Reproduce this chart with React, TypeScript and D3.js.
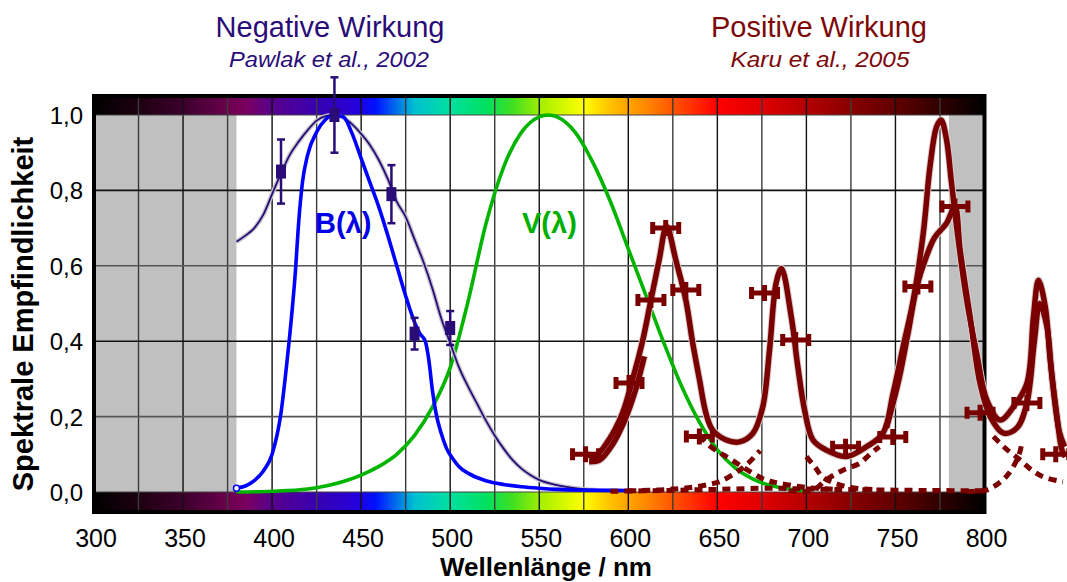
import React from 'react';
import * as d3 from 'd3';

const W = 1067;
const H = 582;

const xTickValues = [300, 350, 400, 450, 500, 550, 600, 650, 700, 750, 800];
const xGridValues = d3.range(325, 800, 25);
const yTickValues = [0, 0.2, 0.4, 0.6, 0.8, 1.0];
const yTickLabels = ['0,0', '0,2', '0,4', '0,6', '0,8', '1,0'];

// spectrum colour stops [nm, colour]
const spectrumStops: [number, string][] = [
  [300, '#000000'], [325, '#1e0010'], [350, '#3c002c'], [375, '#6a004c'], [385, '#7a005e'],
  [400, '#58008e'], [425, '#3800b0'], [448, '#2400dc'], [458, '#0010ff'], [468, '#0060f0'],
  [480, '#00c0d0'], [500, '#00e0a0'], [520, '#00e060'], [535, '#40e020'], [552, '#a8f000'],
  [575, '#ffff00'], [590, '#ffc000'], [610, '#ff8800'], [630, '#ff4400'], [650, '#ff0000'],
  [675, '#e00000'], [700, '#b40000'], [725, '#880000'], [750, '#600000'], [775, '#300000'],
  [800, '#000000'],
];

// B(lambda) blue light hazard curve
const blueB: [number, number][] = [
  [380, 0.01], [385, 0.016], [390, 0.03], [395, 0.055], [400, 0.1], [405, 0.21], [408, 0.33],
  [410, 0.42], [413, 0.58], [415, 0.72], [417, 0.82], [420, 0.895], [425, 0.955], [430, 0.988],
  [435, 1.0], [440, 0.995], [445, 0.95], [450, 0.885], [455, 0.82], [460, 0.755], [465, 0.68],
  [470, 0.6], [475, 0.52], [480, 0.45], [483, 0.42], [486, 0.4], [488, 0.35], [490, 0.27],
  [492, 0.21], [495, 0.155], [498, 0.115], [502, 0.085], [505, 0.067], [510, 0.05], [520, 0.03],
  [530, 0.02], [540, 0.014], [550, 0.01], [560, 0.007], [575, 0.005], [600, 0.004],
];

// V(lambda) photopic curve
const greenV: [number, number][] = [
  [380, 0.0], [400, 0.002], [420, 0.008], [430, 0.016], [440, 0.028], [450, 0.045], [460, 0.068],
  [470, 0.1], [480, 0.15], [490, 0.225], [500, 0.33], [510, 0.505], [520, 0.71], [530, 0.862],
  [540, 0.954], [550, 0.995], [555, 1.0], [560, 0.995], [570, 0.955], [580, 0.875], [590, 0.77],
  [600, 0.645], [610, 0.52], [620, 0.395], [630, 0.28], [640, 0.185], [650, 0.112], [660, 0.064],
  [670, 0.034], [680, 0.017], [690, 0.008], [700, 0.003],
];

// Pawlak et al. 2002 curve
const pawlakCurve: [number, number][] = [
  [380, 0.664], [385, 0.68], [390, 0.7], [395, 0.735], [400, 0.79], [405, 0.845], [410, 0.895],
  [415, 0.93], [420, 0.96], [425, 0.985], [430, 0.997], [435, 1.0], [440, 0.993], [445, 0.975],
  [450, 0.95], [455, 0.92], [460, 0.88], [465, 0.83], [470, 0.77], [475, 0.73], [480, 0.67],
  [485, 0.61], [490, 0.54], [495, 0.46], [500, 0.395], [505, 0.33], [510, 0.28], [515, 0.235],
  [520, 0.19], [525, 0.15], [530, 0.115], [535, 0.085], [540, 0.062], [545, 0.045], [550, 0.032],
  [560, 0.018], [570, 0.01], [582, 0.005],
];
// Pawlak data points [nm, value, error]
const pawlakPoints: [number, number, number][] = [
  [405, 0.85, 0.085], [435, 1.0, 0.1], [467, 0.79, 0.077], [480, 0.42, 0.042], [500, 0.435, 0.045],
];

// Karu et al. 2005 spectra
const karuMain: [number, number][] = [
  [576, 0.103], [581, 0.094], [589, 0.138], [596.7, 0.209], [602.3, 0.297], [608, 0.4],
  [612.7, 0.509], [617.3, 0.615], [621.5, 0.704], [626.7, 0.615], [632.3, 0.509], [636, 0.4],
  [640, 0.297], [643.6, 0.209], [647.4, 0.164], [655, 0.138], [662.4, 0.133], [670, 0.156],
  [675.5, 0.226], [679.3, 0.377], [683, 0.554], [686, 0.593], [691.5, 0.465], [695.2, 0.332],
  [699, 0.217], [703.7, 0.138], [711.2, 0.111], [722.4, 0.094], [733.7, 0.12], [743, 0.156],
  [748.7, 0.262], [754.3, 0.385], [760, 0.509], [765.6, 0.686], [769.4, 0.863], [773.1, 0.969],
  [775.6, 0.987], [778.7, 0.934], [781.5, 0.819], [785.3, 0.668], [790, 0.509], [795.6, 0.368],
  [801.3, 0.244], [808.8, 0.191], [816.3, 0.226], [823.8, 0.288], [827.5, 0.465], [830.3, 0.562],
  [834.1, 0.492], [836.9, 0.35], [840.7, 0.2], [843.5, 0.111], [845.4, 0.094],
];
const karuSecondA: [number, number][] = [
  [578, 0.08], [584, 0.085], [591, 0.125], [598, 0.19], [604, 0.27], [609, 0.36],
];
const karuSecondB: [number, number][] = [
  [745, 0.17], [752, 0.3], [757, 0.42], [762, 0.545], [767, 0.62], [772, 0.675], [778.7, 0.713],
  [783.4, 0.757], [786.3, 0.642], [791.9, 0.465], [797.5, 0.288], [803.2, 0.2], [810.7, 0.156],
  [818.2, 0.17], [823.8, 0.236], [828, 0.4], [831, 0.5], [835, 0.44], [838, 0.3], [842, 0.16],
  [845, 0.12],
];
const karuMarkers: [number, number][] = [
  [576, 0.1], [600.4, 0.289], [612.7, 0.509], [621, 0.7], [632.3, 0.536], [639.9, 0.147],
  [676.5, 0.528], [694, 0.403], [722, 0.12], [748.5, 0.146], [762.6, 0.545], [783.4, 0.757],
  [797.5, 0.21], [823.8, 0.236], [840, 0.1],
];
// dashed fit components
const dashBase: [number, number][] = [
  [590, 0.002], [620, 0.004], [650, 0.007], [680, 0.01], [700, 0.008], [730, 0.006], [770, 0.004], [800, 0.003],
];
const dash620Tail: [number, number][] = [
  [640, 0.15], [645, 0.125], [651, 0.105], [655, 0.094], [664, 0.067], [677, 0.032], [685, 0.023],
  [700, 0.012], [720, 0.006],
];
const dash680Rise: [number, number][] = [
  [600, 0.003], [620, 0.006], [635, 0.012], [645, 0.02], [651, 0.027], [660, 0.05], [667, 0.075], [674, 0.11],
];
const dash680Fall: [number, number][] = [
  [700, 0.094], [705, 0.065], [709, 0.04], [715, 0.025], [725, 0.012], [740, 0.006],
];
const dash772Rise: [number, number][] = [
  [690, 0.003], [703.7, 0.005], [711, 0.032], [720.5, 0.058], [730, 0.076], [735.6, 0.1], [741, 0.12],
];
const dash772Fall: [number, number][] = [
  [805, 0.147], [812, 0.115], [820, 0.085], [826, 0.06], [833, 0.04], [844, 0.027],
];
const dash826Rise: [number, number][] = [
  [790, 0.002], [801, 0.005], [812, 0.04], [819, 0.094], [821, 0.13],
];

const FONT = '"Liberation Sans", Arial, Helvetica, sans-serif';
const RED = '#7a0000';
const INDIGO = '#2a0c78';

export default function App() {
  const x = d3.scaleLinear().domain([300, 800]).range([94, 984.5]);
  const y = d3.scaleLinear().domain([0, 1]).range([492, 115]);

  const smooth = d3.line<[number, number]>().x(d => x(d[0])).y(d => y(d[1])).curve(d3.curveMonotoneX);
  const cr = d3.line<[number, number]>().x(d => x(d[0])).y(d => y(d[1])).curve(d3.curveCatmullRom.alpha(0.5));

  const x0 = x(300), x1 = x(800);
  const barTop = 96, barBot = 512;

  const redDashed = [dashBase, dash620Tail, dash680Rise, dash680Fall, dash772Rise, dash772Fall, dash826Rise];
  const redSolid = [karuMain, karuSecondA, karuSecondB];

  return (
    <svg width={W} height={H} viewBox={`0 0 ${W} ${H}`}
      style={{ position: 'absolute', left: 0, top: 0, background: '#fff' }}
      fontFamily={FONT}>
      <defs>
        <linearGradient id="spec" gradientUnits="userSpaceOnUse" x1={x0} x2={x1} y1={0} y2={0}>
          {spectrumStops.map(([nm, c], i) => (
            <stop key={i} offset={(nm - 300) / 500} stopColor={c} />
          ))}
        </linearGradient>
      </defs>

      {/* titles */}
      <text x={330} y={37} textAnchor="middle" fontSize={29} fill={INDIGO}>Negative Wirkung</text>
      <text x={329} y={67} textAnchor="middle" fontSize={22} fontStyle="italic" fill={INDIGO}
        textLength={200} lengthAdjust="spacingAndGlyphs">Pawlak et al., 2002</text>
      <text x={819} y={37} textAnchor="middle" fontSize={29} fill="#7d0808">Positive Wirkung</text>
      <text x={820} y={67} textAnchor="middle" fontSize={22} fontStyle="italic" fill="#7d0808"
        textLength={179} lengthAdjust="spacingAndGlyphs">Karu et al., 2005</text>

      {/* plot background */}
      <rect x={x0} y={y(1)} width={x1 - x0} height={y(0) - y(1)} fill="#fff" />
      <rect x={x0} y={y(1)} width={x(380) - x0} height={y(0) - y(1)} fill="#c0c0c0" />
      <rect x={x(780)} y={y(1)} width={x1 - x(780)} height={y(0) - y(1)} fill="#c0c0c0" />

      {/* spectrum bars */}
      <rect x={x0} y={barTop} width={x1 - x0} height={y(1) - barTop} fill="url(#spec)" />
      <rect x={x0} y={y(0)} width={x1 - x0} height={barBot - y(0)} fill="url(#spec)" />

      {/* grid */}
      {xGridValues.map((v, i) => (
        <line key={'gx' + i} x1={x(v)} x2={x(v)} y1={barTop} y2={barBot}
          stroke={v % 50 === 0 ? '#111' : '#3a3a3a'} strokeWidth={1.4} />
      ))}
      {[0.2, 0.4, 0.6, 0.8].map((v, i) => (
        <line key={'gy' + i} x1={x0} x2={x1} y1={y(v)} y2={y(v)}
          stroke={i % 2 === 0 ? '#555' : '#111'} strokeWidth={1.6} />
      ))}
      <line x1={x0} x2={x1} y1={y(1)} y2={y(1)} stroke="#444" strokeWidth={1.2} />
      <line x1={x0} x2={x1} y1={y(0)} y2={y(0)} stroke="#444" strokeWidth={1.2} />

      {/* frame */}
      <rect x={x0} y={barTop} width={x1 - x0} height={barBot - barTop} fill="none" stroke="#000" strokeWidth={4} />

      {/* V(lambda) */}
      <path d={smooth(greenV) || ''} fill="none" stroke="#00b400" strokeWidth={3.6} />

      {/* Pawlak curve */}
      <path d={smooth(pawlakCurve) || ''} fill="none" stroke="#c4c4cc" strokeWidth={4.5} />
      <path d={smooth(pawlakCurve) || ''} fill="none" stroke={INDIGO} strokeWidth={1.8} />

      {/* B(lambda) */}
      <path d={smooth(blueB) || ''} fill="none" stroke="#0000ff" strokeWidth={3.6} />
      <circle cx={x(blueB[0][0])} cy={y(blueB[0][1])} r={3} fill="#fff" stroke="#0000ff" strokeWidth={1.5} />

      {/* Pawlak points */}
      {pawlakPoints.map(([nm, v, e], i) => (
        <g key={'pp' + i} stroke={INDIGO} fill={INDIGO}>
          <line x1={x(nm)} x2={x(nm)} y1={y(v + e)} y2={y(v - e)} strokeWidth={2.5} />
          <line x1={x(nm) - 4} x2={x(nm) + 4} y1={y(v + e)} y2={y(v + e)} strokeWidth={2.5} />
          <line x1={x(nm) - 4} x2={x(nm) + 4} y1={y(v - e)} y2={y(v - e)} strokeWidth={2.5} />
          <rect x={x(nm) - 5} y={y(v) - 7} width={10} height={14} stroke="none" />
        </g>
      ))}

      {/* Karu dashed components */}
      {redDashed.map((d, i) => (
        <path key={'rd' + i} d={cr(d) || ''} fill="none" stroke={RED} strokeWidth={5}
          strokeDasharray="8 6" />
      ))}
      {/* Karu spectra */}
      {redSolid.map((d, i) => (
        <path key={'rsh' + i} d={cr(d) || ''} fill="none" stroke="#d8caca" strokeWidth={7.5}
          strokeLinejoin="round" />
      ))}
      {redSolid.map((d, i) => (
        <path key={'rs' + i} d={cr(d) || ''} fill="none" stroke={RED} strokeWidth={5.5}
          strokeLinejoin="round" />
      ))}
      {karuMarkers.map(([nm, v], i) => {
        const cx = x(nm), cy = y(v);
        return (
          <path key={'km' + i}
            d={`M${cx - 13},${cy} H${cx + 13} M${cx - 13},${cy - 6} V${cy + 6} M${cx + 13},${cy - 6} V${cy + 6} M${cx},${cy - 8} V${cy + 8}`}
            fill="none" stroke={RED} strokeWidth={5} />
        );
      })}

      {/* curve labels */}
      <text x={315} y={233} fontSize={29} fontWeight="bold" fill="#0000e6">B(λ)</text>
      <text x={522} y={233} fontSize={29} fontWeight="bold" fill="#00b000">V(λ)</text>

      {/* axes labels */}
      {yTickValues.map((v, i) => (
        <text key={'yt' + i} x={83} y={y(v) + 9} textAnchor="end" fontSize={24} fill="#000">{yTickLabels[i]}</text>
      ))}
      {xTickValues.map((v, i) => (
        <text key={'xt' + i} x={x(v) + 2} y={547} textAnchor="middle" fontSize={25} fill="#000">{v}</text>
      ))}
      <text x={546} y={576} textAnchor="middle" fontSize={26} fontWeight="bold" fill="#000">Wellenlänge / nm</text>
      <text transform="translate(33,314) rotate(-90)" textAnchor="middle" fontSize={29} fontWeight="bold" fill="#000">Spektrale Empfindlichkeit</text>
    </svg>
  );
}
